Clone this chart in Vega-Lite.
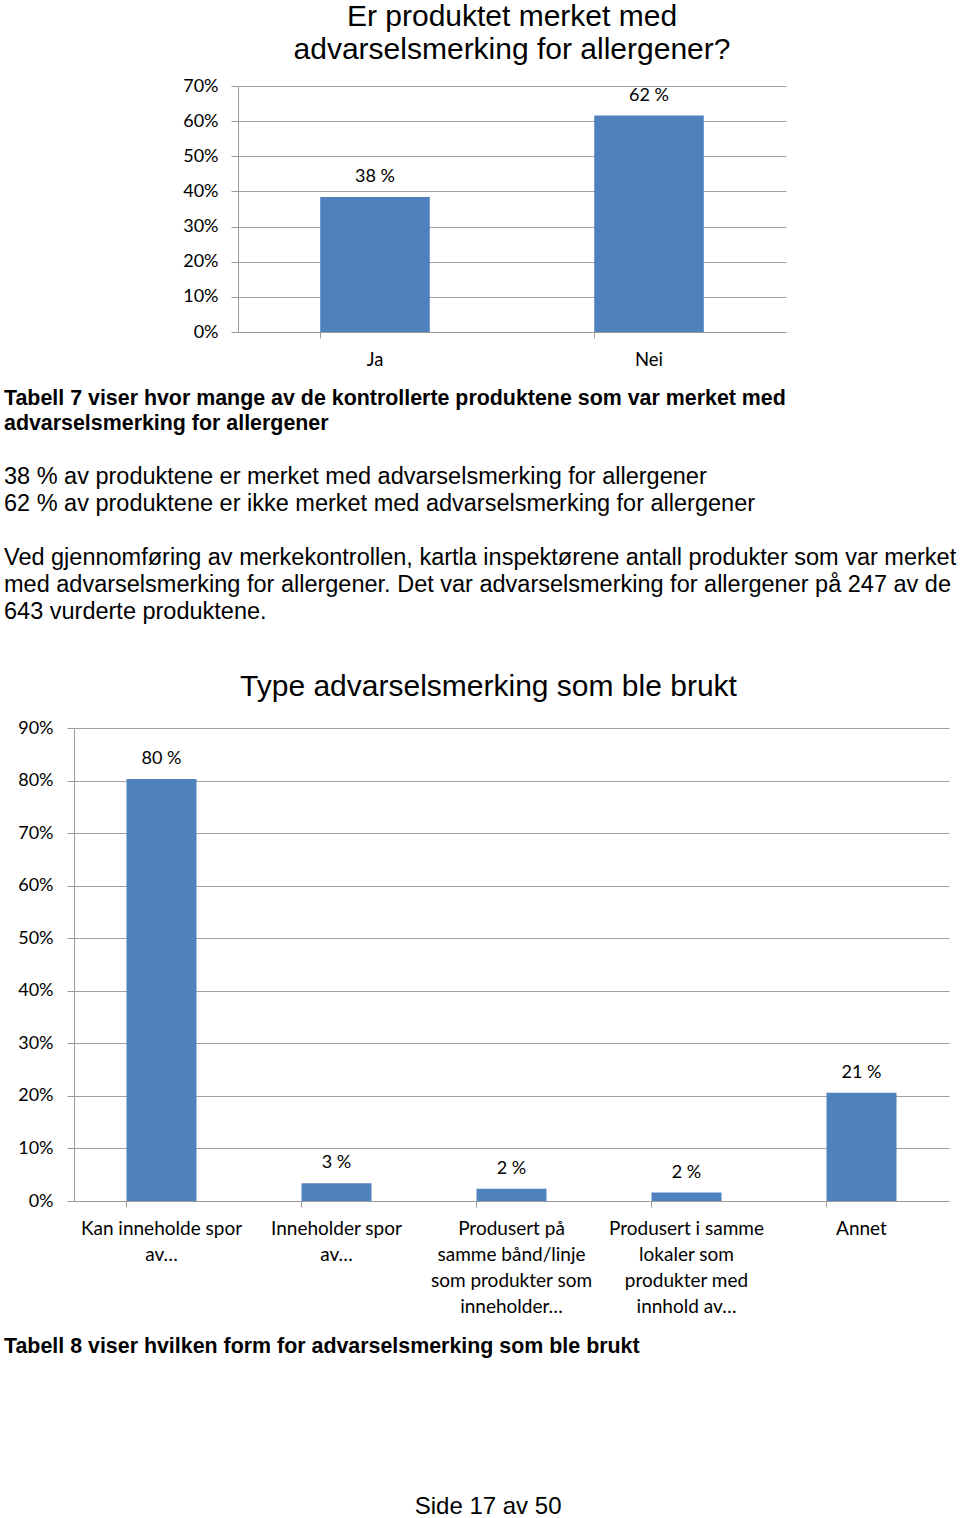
{
  "$schema": "https://vega.github.io/schema/vega-lite/v6.json",
  "background": "white",
  "padding": {"left": 4, "top": 2, "right": 0, "bottom": 0},
  "config": {
    "view": {"stroke": null},
    "font": "Liberation Sans",
    "concat": {"spacing": 0},
    "axis": {"labelColor": "black", "domainColor": "#9a9a9a", "tickColor": "#9a9a9a", "gridColor": "#a0a0a0", "labelFont": "Lato", "title": null}
  },
  "title": {"text": "Side 17 av 50", "orient": "bottom", "anchor": "middle", "frame": "bounds", "fontSize": 24, "font": "Liberation Sans", "fontWeight": "normal", "color": "black", "offset": 138, "dx": 8},
  "spacing": 29,
  "vconcat": [
    {
      "title": {
        "text": ["Tabell 7 viser hvor mange av de kontrollerte produktene som var merket med", "advarselsmerking for allergener"],
        "subtitle": ["38 % av produktene er merket med advarselsmerking for allergener", "62 % av produktene er ikke merket med advarselsmerking for allergener"],
        "orient": "bottom", "anchor": "start", "frame": "bounds",
        "font": "Liberation Sans", "fontSize": 21.4, "fontWeight": "bold", "lineHeight": 25.5, "color": "black",
        "subtitleFont": "Liberation Sans", "subtitleFontSize": 23.5, "subtitleFontWeight": "normal", "subtitleLineHeight": 27, "subtitleColor": "black", "subtitlePadding": 31,
        "offset": 19
      },
      "spacing": 0,
      "hconcat": [
        {"width": 178, "height": 1, "data": {"values": []}, "mark": {"type": "text"}},
        {
          "width": 548, "height": 246,
          "title": {"text": ["Er produktet merket med", "advarselsmerking for allergener?"], "fontSize": 30, "lineHeight": 33, "font": "Liberation Sans", "fontWeight": "normal", "anchor": "middle", "frame": "group", "offset": 12, "color": "black"},
          "data": {"values": [
            {"svar": "Ja", "andel": 0.384, "tekst": "38 %"},
            {"svar": "Nei", "andel": 0.616, "tekst": "62 %"}
          ]},
          "encoding": {
            "x": {"field": "svar", "type": "nominal", "sort": null, "scale": {"paddingInner": 0.6, "paddingOuter": 0.3},
                  "axis": {"labelAngle": 0, "labelFontSize": 18.5, "labelPadding": 12, "tickSize": 6, "bandPosition": 0}},
            "y": {"field": "andel", "type": "quantitative", "scale": {"domain": [0, 0.7]},
                  "axis": {"values": [0, 0.1, 0.2, 0.3, 0.4, 0.5, 0.6, 0.7], "format": ".0%", "labelFontSize": 18, "tickSize": 7, "labelPadding": 13, "grid": true}}
          },
          "layer": [
            {"mark": {"type": "bar", "color": "#4f81bd"}},
            {"mark": {"type": "text", "dy": -20, "font": "Lato", "fontSize": 18, "color": "black"}, "encoding": {"text": {"field": "tekst"}}}
          ]
        }
      ]
    },
    {
      "title": {
        "text": ["Ved gjennomføring av merkekontrollen, kartla inspektørene antall produkter som var merket", "med advarselsmerking for allergener. Det var advarselsmerking for allergener på 247 av de", "643 vurderte produktene."],
        "orient": "top", "anchor": "start", "frame": "bounds",
        "font": "Liberation Sans", "fontSize": 23.5, "fontWeight": "normal", "lineHeight": 27, "color": "black", "offset": 49
      },
      "spacing": 0,
      "vconcat": [
        {
          "title": {"text": "Tabell 8 viser hvilken form for advarselsmerking som ble brukt", "orient": "bottom", "anchor": "start", "frame": "bounds", "font": "Liberation Sans", "fontSize": 21.4, "fontWeight": "bold", "color": "black", "offset": 20},
          "spacing": 0,
          "hconcat": [
            {"width": 13, "height": 1, "data": {"values": []}, "mark": {"type": "text"}},
            {
              "width": 875, "height": 473,
              "title": {"text": "Type advarselsmerking som ble brukt", "fontSize": 30, "font": "Liberation Sans", "fontWeight": "normal", "anchor": "middle", "frame": "group", "dx": -23, "offset": 17, "color": "black"},
              "data": {"values": [
                {"type": "Kan inneholde spor|av…", "andel": 0.803, "tekst": "80 %"},
                {"type": "Inneholder spor|av…", "andel": 0.034, "tekst": "3 %"},
                {"type": "Produsert på|samme bånd/linje|som produkter som|inneholder…", "andel": 0.0235, "tekst": "2 %"},
                {"type": "Produsert i samme|lokaler som|produkter med|innhold av…", "andel": 0.016, "tekst": "2 %"},
                {"type": "Annet", "andel": 0.206, "tekst": "21 %"}
              ]},
              "encoding": {
                "x": {"field": "type", "type": "nominal", "sort": null, "scale": {"paddingInner": 0.6, "paddingOuter": 0.3},
                      "axis": {"labelAngle": 0, "labelFontSize": 19, "labelLineHeight": 26, "labelLimit": 0, "labelPadding": 12, "tickSize": 6, "bandPosition": 0, "labelExpr": "split(datum.label, '|')"}},
                "y": {"field": "andel", "type": "quantitative", "scale": {"domain": [0, 0.9]},
                      "axis": {"values": [0, 0.1, 0.2, 0.3, 0.4, 0.5, 0.6, 0.7, 0.8, 0.9], "format": ".0%", "labelFontSize": 18, "tickSize": 7, "labelPadding": 14, "grid": true}}
              },
              "layer": [
                {"mark": {"type": "bar", "color": "#4f81bd"}},
                {"mark": {"type": "text", "dy": -20, "font": "Lato", "fontSize": 18, "color": "black"}, "encoding": {"text": {"field": "tekst"}}}
              ]
            }
          ]
        }
      ]
    }
  ]
}
